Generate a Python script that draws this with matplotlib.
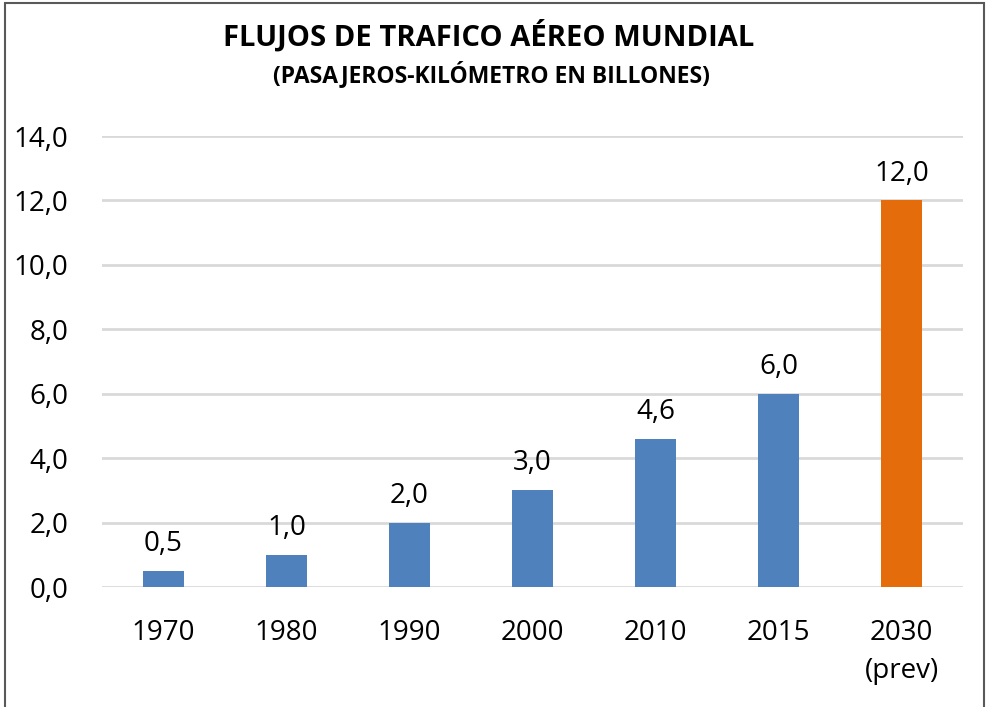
import matplotlib.pyplot as plt
from matplotlib.patches import Rectangle

# Data
years = ["1970", "1980", "1990", "2000", "2010", "2015", "2030\n(prev)"]
values = [0.5, 1.0, 2.0, 3.0, 4.6, 6.0, 12.0]
bar_colors = ["#4F81BD"] * 6 + ["#E46C0A"]
y_ticks = [0, 2, 4, 6, 8, 10, 12, 14]

plt.rcParams['font.family'] = ['Open Sans', 'DejaVu Sans']

fig = plt.figure(figsize=(9.88, 7.07), dpi=100)
ax = fig.add_axes([0.1032, 0.1697, 0.8715, 0.6379])

x = range(len(years))
ax.bar(x, values, width=0.33, color=bar_colors, zorder=3)

for i, v in enumerate(values):
    ax.text(i, v + 0.4, f"{v:.1f}".replace(".", ","), ha="center", va="bottom",
            fontsize=20, color="#000000")

ax.set_xlim(-0.5, len(years) - 0.5)
ax.set_ylim(0, 14)
ax.set_yticks(y_ticks)
ax.set_yticklabels([f"{t:.1f}".replace(".", ",") for t in y_ticks], fontsize=20)
ax.set_xticks(list(x))
ax.set_xticklabels(years, fontsize=20, linespacing=1.5, va="top")
ax.tick_params(axis="both", length=0)
ax.tick_params(axis="x", pad=23)
ax.tick_params(axis="y", pad=24)

ax.grid(axis="y", color="#D9D9D9", linewidth=2, zorder=0)
for s in ax.spines.values():
    s.set_visible(False)

fig.text(0.495, 0.948, "FLUJOS DE TRAFICO AÉREO MUNDIAL", ha="center", va="center",
         fontsize=21, fontweight="bold")
fig.text(0.497, 0.894, "(PASAJEROS-KILÓMETRO EN BILLONES)", ha="center", va="center",
         fontsize=16.5, fontweight="bold")

# outer frame
fig.patches.append(Rectangle((5 / 988, -0.01), 979 / 988, 1 - 3 / 707 + 0.01,
                             transform=fig.transFigure, fill=False,
                             edgecolor="#595959", linewidth=1.5))

plt.savefig("out.png", dpi=100)
